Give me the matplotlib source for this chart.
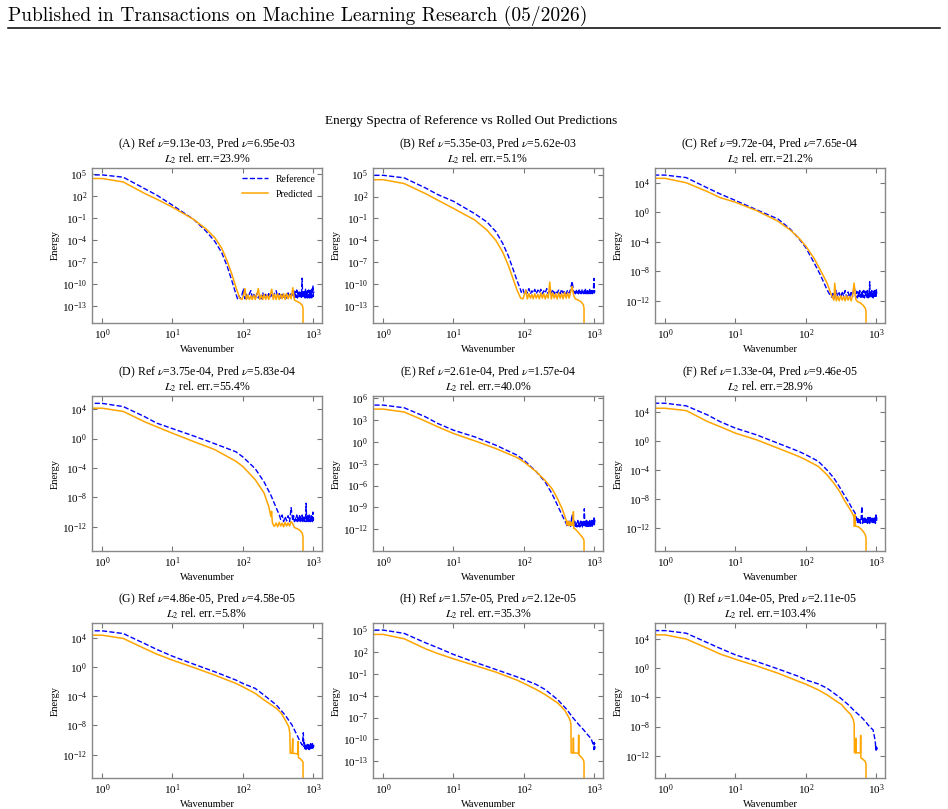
import numpy as np
import matplotlib
matplotlib.use("Agg")
import matplotlib.pyplot as plt
from matplotlib.lines import Line2D

plt.rcParams['font.family'] = ['Liberation Serif', 'DejaVu Serif']
plt.rcParams['mathtext.fontset'] = 'stix'

# ---- panel meta data ----
panel_ids = ['A', 'B', 'C', 'D', 'E', 'F', 'G', 'H', 'I']
nu_ref = [9.13e-03, 5.35e-03, 9.72e-04, 3.75e-04, 2.61e-04, 1.33e-04, 4.86e-05, 1.57e-05, 1.04e-05]
nu_pred = [6.95e-03, 5.62e-03, 7.65e-04, 5.83e-04, 1.57e-04, 9.46e-05, 4.58e-05, 2.12e-05, 2.11e-05]
rel_err = [23.9, 5.1, 21.2, 55.4, 40.0, 28.9, 5.8, 35.3, 103.4]

# shared wavenumbers of the noisy floor (reference runs to 1020, prediction to 512)
k_floor = [80, 84, 88, 92, 97, 102, 107, 112, 118, 124, 130, 136, 143, 150, 158, 166, 174, 183,
           192, 201, 211, 222, 233, 245, 257, 270, 283, 297, 312, 328, 344, 361, 379, 398, 418,
           439, 461, 484, 512,
           526, 540, 554, 568, 582, 596, 610, 624, 638, 652, 666, 680, 694, 708, 722, 736, 750,
           764, 778, 792, 806, 820, 834, 848, 862, 876, 890, 904, 918, 932, 946, 960, 974, 988,
           1002, 1020]
k_floor_pred = k_floor[:39]
k_tail = [540, 600, 650, 700, 715, 720]

# energies below are log10(E)
# (A)
A_ref_k = [0, 1, 2, 4, 6, 10, 20, 30, 40, 50, 60, 70, 80]
A_ref_e = [4.86, 4.86, 4.55, 3.0, 2.1, 0.74, -1.2, -2.8, -4.2, -5.7, -7.6, -9.6, -11.4]
A_ref_floor = [-12.0, -11.6, -12.0, -11.5, -10.6, -12.0, -11.4, -11.9, -11.3, -10.9,
               -11.9, -11.4, -12.0, -11.3, -11.9, -11.5, -12.0, -11.2, -11.9, -11.4,
               -11.9, -11.3, -11.8, -11.4, -11.9, -11.2, -10.9, -11.8, -11.3, -11.9,
               -11.2, -11.8, -11.4, -11.9, -11.2, -11.8, -11.3, -11.7,
               -10.9, -11.9, -11.0, -11.8, -10.8, -11.9, -11.1, -11.8, -10.9, -11.9,
               -11.0, -11.8, -9.2, -11.9, -10.9, -11.8, -11.0, -11.9, -10.7, -11.8,
               -11.0, -11.9, -10.9, -11.8, -10.8, -11.9, -11.0, -11.8, -10.9, -11.9,
               -10.7, -11.8, -10.9, -10.2, -11.7, -11.0]
A_pred_k = [0, 1, 2, 4, 6, 10, 20, 30, 40, 50, 60, 70, 80, 90]
A_pred_e = [4.37, 4.37, 3.9, 2.35, 1.55, 0.47, -1.2, -2.5, -3.7, -5.1, -6.9, -8.7, -10.5, -11.9]
A_pred_floor = [-12.1, -11.6, -10.6, -12.1, -11.5, -12.1, -11.6, -12.1, -11.5, -12.1,
                -11.4, -10.6, -12.1, -11.5, -12.1, -11.4, -12.1, -11.5, -12.1, -11.4,
                -10.7, -12.1, -11.4, -12.1, -11.3, -12.1, -11.4, -12.0, -11.3, -12.1,
                -11.3, -12.0, -11.4, -12.0, -10.5]
A_pred_tail = [-12.2, -12.4, -12.6, -12.9, -13.3, -30]

# (B)
B_ref_k = [0, 1, 2, 4, 6, 10, 20, 30, 40, 50, 60, 70, 80, 90]
B_ref_e = [4.9, 4.9, 4.55, 3.17, 2.26, 1.35, -0.34, -1.5, -2.8, -4.4, -6.1, -7.9, -9.5, -10.8]
B_ref_floor = [-11.1, -10.7, -11.3, -10.8, -11.2, -10.6, -11.3, -10.9, -11.2, -10.7,
               -11.3, -10.8, -11.2, -10.7, -11.3, -10.9, -11.2, -10.6, -11.3, -10.8,
               -11.2, -10.7, -11.3, -10.9, -11.2, -10.8, -11.3, -10.7, -11.2, -10.9,
               -11.3, -10.8, -11.2, -10.7, -9.6, -11.2,
               -10.8, -11.3, -10.7, -11.2, -10.9, -11.3, -10.6, -11.2, -10.8, -11.3,
               -10.7, -11.2, -10.9, -11.3, -10.8, -11.2, -10.6, -11.3, -10.8, -11.2,
               -10.7, -11.3, -10.9, -11.2, -10.6, -11.3, -10.8, -11.2, -10.7, -11.3,
               -10.8, -11.2, -10.7, -9.2, -11.2, -10.8]
B_pred_k = [0, 1, 2, 4, 6, 10, 20, 30, 40, 50, 60, 70, 80, 90]
B_pred_e = [4.3, 4.3, 3.77, 2.4, 1.5, 0.37, -1.2, -2.6, -4.0, -5.6, -7.4, -9.2, -10.8, -11.9]
B_pred_floor = [-12.0, -11.4, -10.8, -12.0, -11.3, -11.9, -11.4, -12.0, -11.3, -11.9,
                -11.4, -12.0, -11.2, -11.9, -11.3, -12.0, -11.4, -11.9, -9.7, -12.0,
                -11.2, -11.9, -11.3, -12.0, -11.2, -11.9, -11.3, -12.0, -11.1, -11.9,
                -11.2, -11.9, -11.1, -10.3, -11.6]
B_pred_tail = [-12.0, -12.2, -12.4, -12.8, -13.3, -30]

# (C)
C_ref_k = [0, 1, 2, 4, 6, 10, 20, 40, 60, 80, 100, 130, 160, 200, 220]
C_ref_e = [5.04, 5.04, 4.7, 3.3, 2.5, 1.6, 0.34, -0.9, -2.27, -3.6, -4.8, -6.8, -8.45, -10.5, -11.2]
C_ref_floor = [-11.5, -10.8, -11.6, -10.6, -11.5, -10.9, -11.6, -10.7, -11.4, -10.6,
               -11.5, -10.8, -11.6, -10.7, -11.4, -10.0, -11.5,
               -10.7, -11.6, -10.8, -11.4, -10.6, -11.5, -10.9, -11.6, -10.7, -11.5,
               -10.6, -11.6, -10.8, -11.4, -10.7, -11.5, -10.6, -11.6, -10.9, -11.5,
               -9.4, -11.6, -10.7, -11.4, -10.6, -11.5, -10.8, -11.6, -10.7, -11.4,
               -10.6, -11.5, -10.8, -11.4, -10.5, -11.2]
C_pred_k = [0, 1, 2, 4, 6, 10, 20, 40, 60, 80, 100, 130, 160, 200, 230, 250]
C_pred_e = [4.6, 4.6, 4.0, 2.8, 2.0, 1.36, 0.23, -1.2, -2.4, -3.5, -4.6, -6.2, -7.8, -9.6, -11.2, -11.9]
C_pred_floor = [-9.6, -12.0, -11.4, -12.0, -11.3, -11.9, -11.4, -12.0, -11.3, -11.9,
                -11.4, -12.0, -11.3, -9.6, -11.8]
C_pred_tail = [-12.1, -12.3, -12.6, -13.0, -13.5, -30]

# (D)
D_ref_k = [0, 1, 2, 4, 6, 10, 20, 40, 80, 100, 150, 200, 250, 300, 330]
D_ref_e = [4.8, 4.8, 4.36, 3.0, 2.1, 1.36, 0.36, -0.7, -1.8, -2.5, -4.1, -5.9, -7.7, -9.5, -10.4]
D_ref_floor = [-11.0, -10.4, -11.3, -10.6, -11.2, -10.5, -11.3, -9.4, -11.2,
               -10.5, -11.3, -10.7, -11.2, -10.4, -11.3, -10.6, -11.2, -10.5, -11.3,
               -10.6, -11.2, -10.4, -11.3, -10.7, -11.2, -10.5, -11.3, -10.6, -8.8,
               -11.3, -10.5, -11.2, -10.6, -11.3, -10.4, -11.2, -10.7, -11.3, -10.5,
               -11.2, -10.6, -11.3, -10.0, -11.1, -10.6]
D_pred_k = [0, 1, 2, 4, 6, 10, 20, 40, 80, 100, 150, 200, 234, 250, 256, 262, 275]
D_pred_e = [4.14, 4.14, 3.7, 2.3, 1.6, 0.73, -0.4, -1.5, -3.1, -3.8, -5.6, -7.4, -9.3, -10.6, -9.9, -11.4, -11.9]
D_pred_floor = [-11.9, -11.5, -12.0, -11.4, -11.9, -11.5, -12.0, -11.4, -11.9, -11.5,
                -11.9, -11.3, -11.6]
D_pred_tail = [-12.1, -12.3, -12.5, -12.9, -13.4, -30]

# (E)
E_ref_k = [0, 1, 2, 4, 6, 10, 20, 40, 80, 100, 150, 200, 250, 300, 350, 380]
E_ref_e = [5.05, 5.05, 4.68, 3.44, 2.52, 1.6, 0.69, -0.46, -1.83, -2.5, -4.1, -5.5, -7.1, -8.7, -10.1, -10.8]
E_ref_floor = [-11.2, -11.7, -10.9, -11.6, -10.0, -11.7,
               -10.9, -11.6, -11.0, -11.7, -10.8, -11.6, -11.0, -11.7, -10.9, -11.6,
               -10.8, -11.7, -11.0, -11.6, -9.2, -11.7, -10.9, -11.6, -10.8, -11.7,
               -11.0, -11.6, -10.9, -11.7, -10.8, -11.6, -11.0, -11.5, -10.8, -11.6,
               -10.7, -11.5, -10.9, -10.3, -11.4, -10.7]
E_pred_k = [0, 1, 2, 4, 6, 10, 20, 40, 80, 100, 150, 200, 250, 300, 350, 400, 410, 420, 430,
            440, 450, 460, 470, 480, 490, 500, 505, 512]
E_pred_e = [4.5, 4.5, 4.1, 2.84, 2.06, 1.15, 0.14, -0.92, -2.16, -2.75, -4.1, -5.3, -6.4, -7.8,
            -9.2, -10.8, -11.4, -10.9, -11.5, -11.0, -11.5, -11.0, -11.5, -11.1, -11.5, -11.1, -9.6, -11.9]
E_pred_tail = [-12.0, -12.5, -12.9, -13.3, -13.6, -30]

# (F)
F_ref_k = [0, 1, 2, 4, 6, 10, 20, 40, 80, 100, 150, 200, 250, 300, 350, 400, 450, 500]
F_ref_e = [5.16, 5.16, 4.8, 3.56, 2.65, 1.74, 0.82, -0.32, -1.46, -1.9, -2.8, -4.0, -5.1, -6.3,
           -7.4, -8.3, -9.2, -9.9]
F_ref_floor = [-10.6, -11.3, -10.5, -11.2, -10.7, -11.3, -10.6, -9.0, -11.3, -10.5,
               -11.2, -10.6, -11.3, -10.5, -11.2, -10.7, -11.3, -10.5, -11.2, -10.6,
               -11.3, -10.5, -11.2, -10.7, -11.3, -10.6, -11.2, -10.5, -11.3, -10.6,
               -11.2, -10.5, -11.3, -10.0, -11.1, -10.5]
F_pred_k = [0, 1, 2, 4, 6, 10, 20, 40, 80, 100, 150, 200, 250, 300, 350, 400, 450, 480, 485,
            495, 500, 505, 512, 560, 610, 650, 700, 715, 720]
F_pred_e = [4.47, 4.47, 4.15, 2.65, 1.96, 1.05, 0.14, -1.0, -2.15, -2.6, -3.5, -4.66, -5.8, -6.9,
            -8.1, -9.0, -9.8, -10.4, -11.7, -11.6, -10.1, -11.7, -11.7, -11.8, -12.1, -12.4, -12.9, -13.4, -30]

# (G)
G_ref_k = [0, 1, 2, 4, 6, 10, 20, 40, 80, 100, 150, 200, 300, 400, 500, 600, 650, 700]
G_ref_e = [4.98, 4.98, 4.6, 3.24, 2.42, 1.5, 0.41, -0.64, -1.78, -2.24, -2.92, -3.84, -5.2, -6.6,
           -7.95, -9.5, -10.2, -10.7]
G_ref_floor = [-9.0, -10.9, -10.4, -11.2, -10.6, -11.3, -10.7, -11.3, -10.6, -11.2,
               -10.7, -11.3, -10.6, -11.2, -10.5, -11.2, -10.6, -11.1, -10.5, -11.1,
               -10.5, -10.9]
G_pred_k = [0, 1, 2, 4, 6, 10, 20, 40, 80, 100, 150, 200, 300, 350, 400, 450, 465, 470, 500, 510,
            515, 600, 610, 615, 660, 715, 720]
G_pred_e = [4.38, 4.38, 3.93, 2.56, 1.78, 0.96, -0.05, -1.1, -2.24, -2.7, -3.6, -4.5, -5.66, -6.3,
            -7.26, -8.2, -9.1, -11.8, -11.8, -9.8, -11.8, -11.9, -10.2, -12.4, -12.6, -13.0, -30]

# (H)
H_ref_k = [0, 1, 2, 4, 6, 10, 20, 40, 80, 100, 150, 200, 300, 400, 500, 600, 700, 800, 900, 950,
           980, 990, 1000, 1010, 1020]
H_ref_e = [5.03, 5.03, 4.57, 3.28, 2.6, 1.68, 0.62, -0.39, -1.4, -1.76, -2.45, -3.14, -4.5, -5.8,
           -7.04, -7.95, -8.64, -9.33, -9.88, -10.5, -11.0, -11.4, -10.4, -11.3, -10.5]
H_pred_k = [0, 1, 2, 4, 6, 10, 20, 40, 80, 100, 150, 200, 300, 336, 380, 425, 455, 466, 470, 500,
            505, 510, 595, 600, 605, 650, 700, 715, 720]
H_pred_e = [4.43, 4.43, 3.83, 2.46, 1.8, 1.08, 0.17, -0.75, -1.85, -2.3, -3.14, -3.83, -4.97, -5.43,
            -6.0, -6.8, -7.4, -7.9, -11.85, -11.85, -9.8, -11.85, -11.9, -9.4, -12.1, -12.4, -12.8, -13.2, -30]

# (I)
I_ref_k = [0, 1, 2, 4, 6, 10, 20, 40, 80, 100, 150, 200, 300, 400, 500, 600, 700, 800, 900, 950,
           970, 985, 995, 1005, 1015, 1020]
I_ref_e = [5.16, 5.16, 4.8, 3.5, 2.74, 1.83, 0.91, -0.09, -1.14, -1.6, -2.15, -2.74, -3.97, -5.0,
           -5.94, -6.6, -7.3, -8.0, -8.45, -9.6, -10.2, -11.2, -10.6, -11.2, -10.7, -11.1]
I_pred_k = [0, 1, 2, 4, 6, 10, 20, 40, 80, 100, 150, 200, 300, 323, 380, 437, 470, 485, 490, 510,
            515, 520, 595, 600, 605, 650, 700, 715, 720]
I_pred_e = [4.57, 4.57, 4.0, 2.74, 1.96, 1.23, 0.32, -0.68, -1.83, -2.19, -2.97, -3.65, -4.8, -5.0,
            -5.8, -6.4, -7.0, -7.6, -11.6, -11.6, -9.6, -11.6, -11.6, -9.2, -12.3, -12.5, -12.8, -13.2, -30]


def series(k, e, floor_k=None, floor_e=None, tail_k=None, tail_e=None):
    ks, es = list(k), list(e)
    if floor_e is not None:
        ks += list(floor_k[-len(floor_e):])
        es += list(floor_e)
    if tail_e is not None:
        ks += list(tail_k)
        es += list(tail_e)
    return np.array(ks, dtype=float), 10.0 ** np.array(es)


refs = [
    series(A_ref_k, A_ref_e, k_floor, A_ref_floor),
    series(B_ref_k, B_ref_e, k_floor, B_ref_floor),
    series(C_ref_k, C_ref_e, k_floor, C_ref_floor),
    series(D_ref_k, D_ref_e, k_floor, D_ref_floor),
    series(E_ref_k, E_ref_e, k_floor, E_ref_floor),
    series(F_ref_k, F_ref_e, k_floor, F_ref_floor),
    series(G_ref_k, G_ref_e, k_floor, G_ref_floor),
    series(H_ref_k, H_ref_e),
    series(I_ref_k, I_ref_e),
]
preds = [
    series(A_pred_k, A_pred_e, k_floor_pred, A_pred_floor, k_tail, A_pred_tail),
    series(B_pred_k, B_pred_e, k_floor_pred, B_pred_floor, k_tail, B_pred_tail),
    series(C_pred_k, C_pred_e, k_floor_pred, C_pred_floor, k_tail, C_pred_tail),
    series(D_pred_k, D_pred_e, k_floor_pred, D_pred_floor, k_tail, D_pred_tail),
    series(E_pred_k, E_pred_e, tail_k=k_tail, tail_e=E_pred_tail),
    series(F_pred_k, F_pred_e),
    series(G_pred_k, G_pred_e),
    series(H_pred_k, H_pred_e),
    series(I_pred_k, I_pred_e),
]

# axis ranges (log10) and y tick exponents per panel
ylims = [(-15.3, 5.8), (-15.3, 5.9), (-15.0, 6.0), (-15.3, 5.8), (-15.0, 6.3),
         (-15.1, 6.15), (-15.2, 6.05), (-15.3, 6.0), (-15.05, 6.2)]
yticks = [range(5, -14, -3), range(5, -14, -3), range(4, -13, -4),
          range(4, -13, -4), range(6, -13, -3), range(4, -13, -4),
          range(4, -13, -4), range(5, -14, -3), range(4, -13, -4)]

W, H = 948, 809
fig = plt.figure(figsize=(W / 100, H / 100), dpi=100)

fig.text(8 / W, 1 - 16 / H, 'Published in Transactions on Machine Learning Research (05/2026)',
         fontname='cmr10', fontsize=14, va='center', ha='left')
fig.add_artist(Line2D([8 / W, 940 / W], [1 - 28 / H, 1 - 28 / H], color='black', lw=1.1))
fig.text(471 / W, 1 - 121 / H, 'Energy Spectra of Reference vs Rolled Out Predictions',
         fontsize=9.5, ha='center', va='center')

col_left = [92, 373, 655]
row_top = [168, 396, 623]
ax_w, ax_h = 230, 155

for i, pid in enumerate(panel_ids):
    r, c = divmod(i, 3)
    ax = fig.add_axes([col_left[c] / W, 1 - (row_top[r] + ax_h) / H, ax_w / W, ax_h / H])
    kr, er = refs[i]
    kp, ep = preds[i]
    ax.plot(kr, er, color='blue', ls='--', lw=1.0, label='Reference')
    ax.plot(kp, ep, color='orange', lw=1.1, label='Predicted')
    ax.set_xscale('log')
    ax.set_yscale('log')
    ax.set_xlim(0.72, 1330)
    ax.set_ylim(10.0 ** ylims[i][0], 10.0 ** ylims[i][1])
    ax.set_xticks([1, 10, 100, 1000])
    ax.set_yticks([10.0 ** p for p in yticks[i]])
    ax.minorticks_off()
    ax.tick_params(direction='in', top=True, right=True, length=3.5, width=0.8,
                   color='#777777', labelsize=8)
    for s in ax.spines.values():
        s.set_color('#888888')
        s.set_linewidth(1.0)
    ax.set_xlabel('Wavenumber', fontsize=7.5, labelpad=2)
    ax.set_ylabel('Energy', fontsize=7.5, labelpad=2)
    ax.set_title(rf'({pid}) Ref $\nu$={nu_ref[i]:.2e}, Pred $\nu$={nu_pred[i]:.2e}' + '\n'
                 + rf'$L_2$ rel. err.={rel_err[i]:.1f}%', fontsize=8.5, pad=4, linespacing=0.95)
    if i == 0:
        ax.legend(loc='upper right', frameon=False, fontsize=7, handlelength=2.6,
                  borderaxespad=0.3, labelspacing=0.6)

fig.savefig('out.png', dpi=100)
